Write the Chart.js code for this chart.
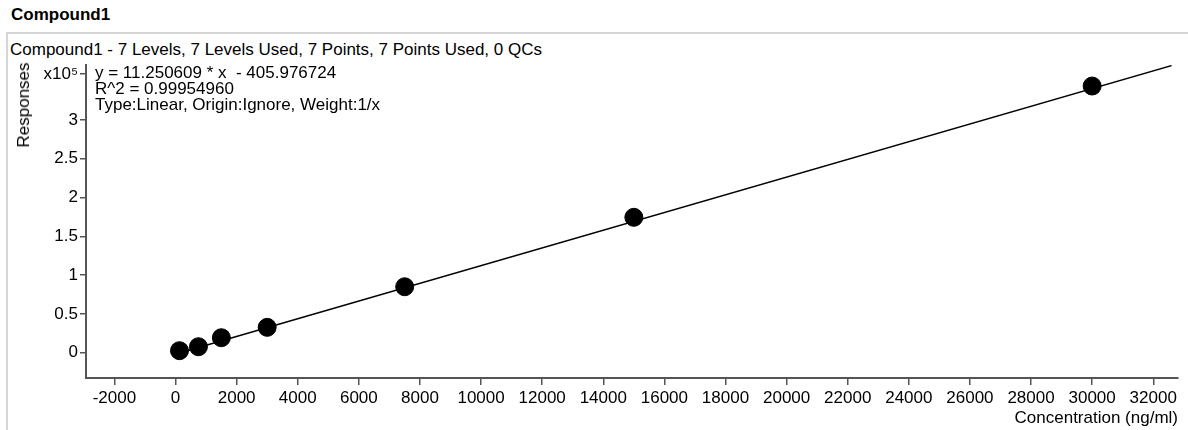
<!DOCTYPE html>
<html>
<head>
<meta charset="utf-8">
<script src="https://cdn.jsdelivr.net/npm/chart.js@4.4.0/dist/chart.umd.min.js"></script>
<style>
  body { margin: 0; background: #fff; font-family: "Liberation Sans", Arial, sans-serif; color: #000; }
  #title { position: absolute; left: 11px; top: 5px; font-weight: bold; font-size: 17px; }
  #box { position: absolute; left: 6px; top: 32px; width: 1200px; height: 420px; border-top: 2px solid #d6d6d6; border-left: 2px solid #d6d6d6; }
  #sub { position: absolute; left: 10px; top: 40px; font-size: 17px; line-height: 19px; white-space: pre; }
  .eq { position: absolute; left: 95px; font-size: 17px; white-space: pre; line-height: 16px; }
  #ytitle { position: absolute; left: 24px; top: 105px; font-size: 17px; white-space: pre; color: #000; transform: translate(-50%, -50%) rotate(-90deg); }
  #wrap { position: absolute; left: 0; top: 0; width: 1188px; height: 430px; }
</style>
</head>
<body>
<div id="box"></div>
<div id="title">Compound1</div>
<div id="sub">Compound1 - 7 Levels, 7 Levels Used, 7 Points, 7 Points Used, 0 QCs</div>
<div id="wrap"><canvas id="myChart" width="1188" height="430"></canvas></div>
<div class="eq" style="top:65px">y = 11.250609 * x  - 405.976724</div>
<div class="eq" style="top:81px">R^2 = 0.99954960</div>
<div class="eq" style="top:97px">Type:Linear, Origin:Ignore, Weight:1/x</div>
<div id="ytitle">Responses</div>

<script>
// calibration points
const concentrations = [130, 750, 1500, 3000, 7500, 15000, 30000];
const responses = [2600, 7700, 19300, 32700, 85000, 174500, 343700];

// regression line ends
const fitX = [130, 32600];
const fitY = [-500, 370000];

const xTicks = [-2000, 0, 2000, 4000, 6000, 8000, 10000, 12000, 14000, 16000,
  18000, 20000, 22000, 24000, 26000, 28000, 30000, 32000];
const yTicks = [0, 50000, 100000, 150000, 200000, 250000, 300000, 359000];
const yTickLabels = ['0', '0.5', '1', '1.5', '2', '2.5', '3', 'x10\u2075'];

const axisColor = '#555';
const tickFont = { family: 'Liberation Sans', size: 17 };

const ctx = document.getElementById('myChart');
new Chart(ctx, {
  type: 'scatter',
  data: {
    datasets: [{
      label: 'Fit',
      type: 'line',
      data: fitX.map((x, i) => ({ x: x, y: fitY[i] })),
      borderColor: '#000',
      borderWidth: 1.5,
      pointRadius: 0,
      fill: false
    }, {
      label: 'Points',
      data: concentrations.map((x, i) => ({ x: x, y: responses[i] })),
      backgroundColor: '#000',
      borderColor: '#000',
      pointRadius: 9,
      pointHoverRadius: 9
    }]
  },
  options: {
    responsive: false,
    animation: false,
    devicePixelRatio: 1,
    layout: { padding: { left: 0, top: 65, right: 3, bottom: 0 } },
    plugins: { legend: { display: false }, tooltip: { enabled: false } },
    scales: {
      x: {
        type: 'linear',
        min: -2930,
        max: 32810,
        afterFit: (s) => { s.height = 52; },
        afterBuildTicks: (s) => { s.ticks = xTicks.map(v => ({ value: v })); },
        border: { color: axisColor, width: 2 },
        grid: { drawOnChartArea: false, drawTicks: true, tickLength: 7, color: axisColor, lineWidth: 1.5 },
        ticks: { color: '#000', font: tickFont, padding: 3, maxRotation: 0, autoSkip: false, callback: (v) => String(v) },
        title: { display: true, text: 'Concentration (ng/ml)', align: 'end', color: '#000', font: tickFont, padding: { top: 0, bottom: 1 } }
      },
      y: {
        type: 'linear',
        min: -32600,
        max: 370800,
        afterFit: (s) => { s.width = 86; },
        afterBuildTicks: (s) => { s.ticks = yTicks.map(v => ({ value: v })); },
        border: { color: axisColor, width: 2 },
        grid: { drawOnChartArea: false, drawTicks: true, tickLength: 6, color: axisColor, lineWidth: 1.5 },
        ticks: {
          color: '#000', font: tickFont, padding: 2, autoSkip: false,
          callback: (v) => yTickLabels[yTicks.indexOf(v)]
        }
      }
    }
  }
});
</script>
</body>
</html>
